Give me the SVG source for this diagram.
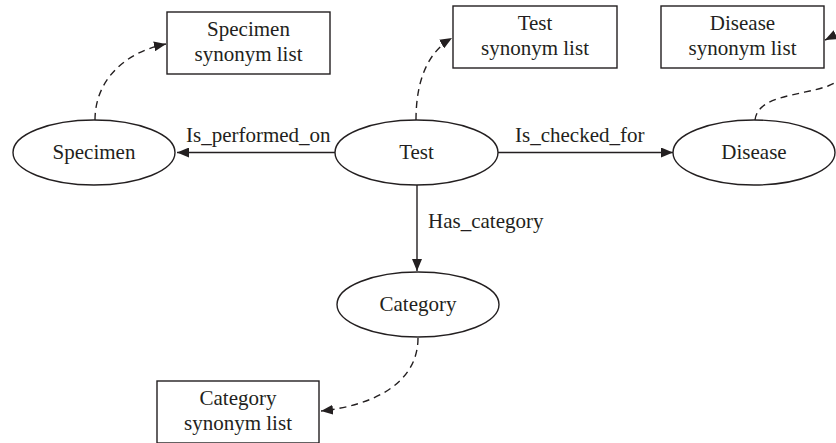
<svg xmlns="http://www.w3.org/2000/svg" width="836" height="443" viewBox="0 0 836 443">
<defs>
<marker id="ah" viewBox="0 0 12 10" refX="12" refY="5" markerWidth="12" markerHeight="10" markerUnits="userSpaceOnUse" orient="auto">
<path d="M0,0 L12,5 L0,10 Z" fill="#231f20"/>
</marker>
</defs>
<style>
.n{fill:#fff;stroke:#231f20;stroke-width:1.4}
.t{font-family:"Liberation Serif","Times New Roman",serif;font-size:21px;fill:#231f20;text-anchor:middle}
.l{font-family:"Liberation Serif","Times New Roman",serif;font-size:21px;fill:#231f20}
.e{fill:none;stroke:#231f20;stroke-width:1.4;marker-end:url(#ah)}
.d{stroke-dasharray:7,5}
</style>
<rect width="836" height="443" fill="#fff"/>
<g id="connectors">
<line class="e" x1="335" y1="152.5" x2="177" y2="152.5"/>
<line class="e" x1="498" y1="152.5" x2="673" y2="152.5"/>
<line class="e" x1="417" y1="185" x2="417" y2="271"/>
<path class="e d" d="M95,120 C95,80 125,52 166,44"/>
<path class="e d" d="M416,120 C416,80 428,52 452,38"/>
<path class="e d" d="M755,120 C758,95 800,96 828,86 C870,70 862,22 825,40"/>
<path class="e d" d="M418,338 C418,385 370,406 321,411"/>
<text class="l" x="186" y="142">Is_performed_on</text>
<text class="l" x="515" y="142">Is_checked_for</text>
<text class="l" x="428" y="228">Has_category</text>
</g>
<g id="specimen"><ellipse class="n" cx="94" cy="152.5" rx="81" ry="32.5"/><text class="t" x="94" y="159">Specimen</text></g>
<g id="test"><ellipse class="n" cx="416.5" cy="152.5" rx="81.5" ry="32.5"/><text class="t" x="416.5" y="159">Test</text></g>
<g id="disease"><ellipse class="n" cx="754" cy="152.5" rx="81" ry="32.5"/><text class="t" x="754" y="159">Disease</text></g>
<g id="category"><ellipse class="n" cx="418" cy="304.5" rx="81" ry="32.5"/><text class="t" x="418" y="311">Category</text></g>
<g id="specimen-syn"><rect class="n" x="167" y="12" width="163" height="62"/><text class="t" x="248.5" y="36">Specimen</text><text class="t" x="248.5" y="61">synonym list</text></g>
<g id="test-syn"><rect class="n" x="453" y="6" width="164" height="62"/><text class="t" x="535" y="30">Test</text><text class="t" x="535" y="55">synonym list</text></g>
<g id="disease-syn"><rect class="n" x="661" y="6" width="163" height="62"/><text class="t" x="742.5" y="30">Disease</text><text class="t" x="742.5" y="55">synonym list</text></g>
<g id="category-syn"><rect class="n" x="157" y="381" width="162" height="62"/><text class="t" x="238" y="405">Category</text><text class="t" x="238" y="430">synonym list</text></g>
</svg>
